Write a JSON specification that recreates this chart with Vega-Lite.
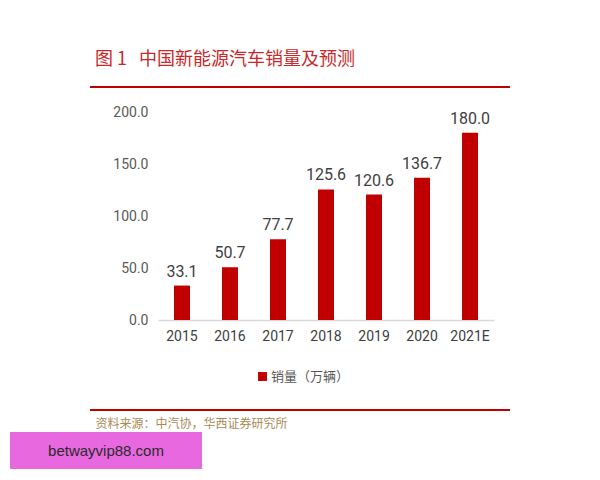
{
  "$schema": "https://vega.github.io/schema/vega-lite/v6.json",
  "autosize": {"type": "none"},
  "width": 336,
  "height": 208,
  "padding": {"left": 158, "top": 112, "right": 106, "bottom": 160},
  "background": "white",
  "config": {"view": {"stroke": null}},
  "title": {
    "text": "图 1\u00a0\u00a0\u00a0中国新能源汽车销量及预测",
    "anchor": "start",
    "frame": "group",
    "dx": -63,
    "offset": 8,
    "baseline": "middle",
    "font": "Noto Sans CJK SC",
    "fontSize": 18,
    "fontWeight": "normal",
    "color": "#c8282a"
  },
  "layer": [
    {
      "data": {"values": [
        {"year": "2015", "sales": 33.1, "series": "销量（万辆）"},
        {"year": "2016", "sales": 50.7, "series": "销量（万辆）"},
        {"year": "2017", "sales": 77.7, "series": "销量（万辆）"},
        {"year": "2018", "sales": 125.6, "series": "销量（万辆）"},
        {"year": "2019", "sales": 120.6, "series": "销量（万辆）"},
        {"year": "2020", "sales": 136.7, "series": "销量（万辆）"},
        {"year": "2021E", "sales": 180.0, "series": "销量（万辆）"}
      ]},
      "layer": [
        {
          "mark": {"type": "bar"},
          "encoding": {
            "x": {
              "field": "year", "type": "nominal", "sort": null,
              "scale": {"paddingInner": 0.667, "paddingOuter": 0.333},
              "axis": {
                "title": "资料来源：中汽协，华西证券研究所",
                "titleX": -63, "titleY": 103, "titleAnchor": "start", "titleAlign": "left",
                "titleBaseline": "middle",
                "titleFont": "Noto Sans CJK SC", "titleFontSize": 12, "titleFontWeight": "normal",
                "titleColor": "#a88a55",
                "labelAngle": 0, "labelFont": "Roboto", "labelFontSize": 14,
                "labelColor": "#404040", "labelPadding": 9,
                "ticks": false, "domainColor": "#d9d9d9", "domainWidth": 1.5
              }
            },
            "y": {
              "field": "sales", "type": "quantitative",
              "scale": {"domain": [0, 200]},
              "axis": {
                "title": null, "values": [0, 50, 100, 150, 200], "format": ".1f",
                "grid": false, "domain": false, "ticks": false, "labelPadding": 10,
                "labelFont": "Roboto", "labelFontSize": 14, "labelColor": "#595959"
              }
            },
            "color": {
              "field": "series", "type": "nominal",
              "scale": {"range": ["#c00000"]},
              "legend": {
                "title": null, "orient": "none", "legendX": 98, "legendY": 258,
                "symbolType": "square", "symbolSize": 80,
                "labelFont": "Noto Sans CJK SC", "labelFontSize": 13, "labelColor": "#595959",
                "labelOffset": 2
              }
            }
          }
        },
        {
          "mark": {"type": "text", "dy": -14, "font": "Roboto", "fontSize": 16, "color": "#404040"},
          "encoding": {
            "x": {"field": "year", "type": "nominal", "sort": null},
            "y": {"field": "sales", "type": "quantitative"},
            "text": {"field": "sales", "type": "quantitative", "format": ".1f"}
          }
        }
      ]
    },
    {
      "data": {"values": [{}]},
      "mark": {"type": "rule", "color": "#c00000", "strokeWidth": 2},
      "encoding": {"x": {"value": -68}, "x2": {"value": 352}, "y": {"value": -25}}
    },
    {
      "data": {"values": [{}]},
      "mark": {"type": "rule", "color": "#c00000", "strokeWidth": 2},
      "encoding": {"x": {"value": -68}, "x2": {"value": 352}, "y": {"value": 298}}
    },
    {
      "data": {"values": [{}]},
      "mark": {"type": "rect", "color": "#e868e0"},
      "encoding": {"x": {"value": -148}, "x2": {"value": 44}, "y": {"value": 320}, "y2": {"value": 357}}
    },
    {
      "data": {"values": [{"t": "betwayvip88.com"}]},
      "mark": {"type": "text", "font": "Liberation Sans", "fontSize": 15, "color": "#2a2a2a", "align": "center", "baseline": "middle"},
      "encoding": {"x": {"value": -52}, "y": {"value": 339}, "text": {"field": "t"}}
    }
  ]
}
